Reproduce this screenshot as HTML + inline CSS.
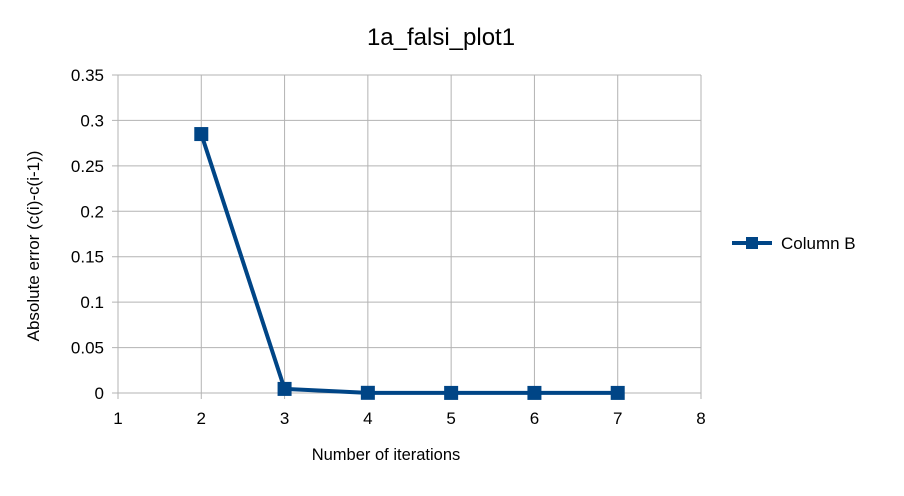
<!DOCTYPE html>
<html>
<head>
<meta charset="utf-8">
<style>
  html,body{margin:0;padding:0;background:#fff;}
  svg{display:block;font-family:"Liberation Sans",Arial,sans-serif;}
</style>
</head>
<body>
<svg id="chart" width="904" height="496" viewBox="0 0 904 496">
  <rect width="904" height="496" fill="#fff"/>
  <text x="441" y="45" text-anchor="middle" font-size="24" fill="#000">1a_falsi_plot1</text>
  <g id="grid"></g>
  <g id="xticks"></g>
  <g id="yticks"></g>
  <g id="series"></g>
  <text x="386" y="460" text-anchor="middle" font-size="16.5" fill="#000">Number of iterations</text>
  <text transform="translate(39,246) rotate(-90)" text-anchor="middle" font-size="17" fill="#000">Absolute error (c(i)-c(i-1))</text>
  <g>
    <line x1="732" y1="243" x2="772" y2="243" stroke="#004586" stroke-width="4"/>
    <rect x="746" y="237" width="12" height="12" fill="#004586"/>
    <text x="781" y="249" font-size="17" fill="#000">Column B</text>
  </g>
</svg>
<script>
const xCategories = [2, 3, 4, 5, 6, 7];
const seriesB = [0.285, 0.0045, 0.0002, 0.0001, 0.0001, 0.0001];
const xTickLabels = [1, 2, 3, 4, 5, 6, 7, 8];
const yTickLabels = [0, 0.05, 0.1, 0.15, 0.2, 0.25, 0.3, 0.35];

const NS = "http://www.w3.org/2000/svg";
const L = 118, R = 701, T = 75, B = 393;
const xMin = 1, xMax = 8, yMin = 0, yMax = 0.35;
const xs = v => L + (v - xMin) / (xMax - xMin) * (R - L);
const ys = v => B - (v - yMin) / (yMax - yMin) * (B - T);
function mk(tag, attrs, parent) {
  const e = document.createElementNS(NS, tag);
  for (const k in attrs) e.setAttribute(k, attrs[k]);
  parent.appendChild(e);
  return e;
}
const grid = document.getElementById('grid');
const xt = document.getElementById('xticks');
const yt = document.getElementById('yticks');
const ser = document.getElementById('series');

yTickLabels.forEach(v => {
  const y = ys(v);
  const l = mk('line', {x1: L - 6, x2: R, y1: y, y2: y, stroke: '#b3b3b3', 'stroke-width': 1}, grid);
  
  
  const t = mk('text', {x: L - 14, y: y + 6, 'text-anchor': 'end', 'font-size': 17, fill: '#000'}, yt);
  t.textContent = String(v);
  
  
});
xTickLabels.forEach(v => {
  const x = xs(v);
  const l = mk('line', {x1: x, x2: x, y1: T, y2: B + 6, stroke: '#b3b3b3', 'stroke-width': 1}, grid);
  
  
  const t = mk('text', {x: x, y: B + 31, 'text-anchor': 'middle', 'font-size': 17, fill: '#000'}, xt);
  t.textContent = String(v);
  
  
});
const pts = xCategories.map((c, i) => xs(c) + ',' + ys(seriesB[i])).join(' ');
const pl = mk('polyline', {points: pts, fill: 'none', stroke: '#004586', 'stroke-width': 4, 'stroke-linejoin': 'round'}, ser);


xCategories.forEach((c, i) => {
  const r = mk('rect', {x: xs(c) - 7, y: ys(seriesB[i]) - 7, width: 14, height: 14, fill: '#004586'}, ser);
  
  
});
</script>
</body>
</html>
